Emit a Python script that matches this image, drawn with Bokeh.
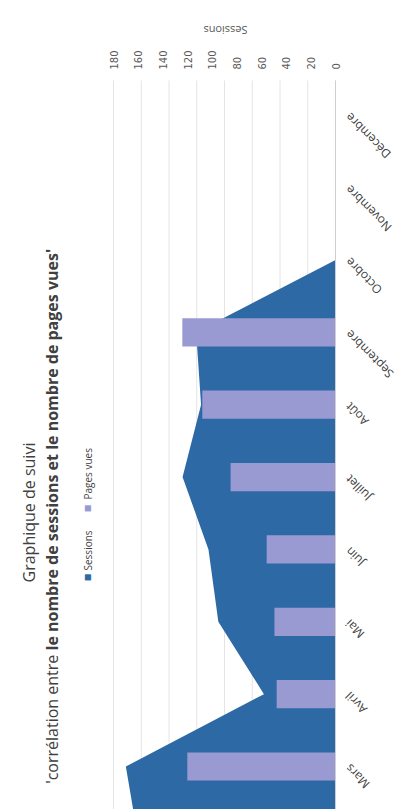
from math import pi
from bokeh.plotting import figure
from bokeh.models import Range1d, ColumnDataSource, Label
from bokeh.core.properties import value
from bokeh.embed import file_html
from bokeh.resources import INLINE

# ---- data ----
months = ["Février", "Mars", "Avril", "Mai", "Juin", "Juillet", "Août",
          "Septembre", "Octobre", "Novembre", "Décembre"]
sessions = [160, 170, 58, 95, 103, 124, 109, 113, 0, 0, 0]
pages_vues = [None, 267, 106, 110, 124, 189, 240, 276, 0, 0, 0]
session_ticks = [0, 20, 40, 60, 80, 100, 120, 140, 160, 180]
pages_ticks = [0, 50, 100, 150, 200, 250, 300, 350, 400]
title_1 = "Graphique de suivi"
title_2a = "'corrélation entre "
title_2b = "le nombre de sessions et le nombre de pages vues'"
legend_names = ["Sessions", "Pages vues"]
axis_title = "Sessions"

SESS_COLOR = "#2d6aa5"
PAGE_COLOR = "#9a9ad2"
TEXT = "#404040"
W, H = 398, 809

# ---- layout: plot area in page pixels ----
AX_X = 335          # value 0 (category axis line)
AX_LEFT = 113       # maximum of both value axes
CAT_PX = 72.36      # pixels per category
MARS_Y = 766        # centre of first visible category
PLOT_TOP = 80

k_pages = (AX_X - AX_LEFT) / max(pages_ticks)
k_sess = (AX_X - AX_LEFT) / max(session_ticks)
first_visible = 1


def idx_of(py):
    return first_visible + (MARS_Y - py) / CAT_PX


def xp(px):  # page x -> pages units
    return (AX_X - px) / k_pages


def xs(px):  # page x -> sessions units
    return (AX_X - px) / k_sess


idx = list(range(len(months)))
src_all = ColumnDataSource(dict(idx=idx, sessions=sessions))
bar_rows = [i for i, v in enumerate(pages_vues) if v is not None]
src_bars = ColumnDataSource(dict(idx=bar_rows, pages=[pages_vues[i] for i in bar_rows]))
lab_rows = [i for i in idx if i >= first_visible]
src_labels = ColumnDataSource(dict(idx=lab_rows, month=[months[i] for i in lab_rows]))

p = figure(width=W, height=H, min_border=0,
           x_range=Range1d(xp(0), xp(W)), y_range=Range1d(idx_of(H), idx_of(0)),
           x_axis_location=None, y_axis_location=None,
           output_backend="svg", toolbar_location=None)
p.outline_line_color = None
p.xgrid.visible = False
p.ygrid.visible = False
p.extra_x_ranges = {"sessions": Range1d(xs(0), xs(W))}

# gridlines (primary axis, labels cut off in the picture)
n = len(pages_ticks)
p.segment(x0=pages_ticks, x1=pages_ticks, y0=[idx_of(H)] * n, y1=[idx_of(PLOT_TOP)] * n,
          line_color="#e4e4e4", line_width=1)

p.harea(x1=0, x2="sessions", y="idx", source=src_all, x_range_name="sessions",
        fill_color=SESS_COLOR)
p.hbar(y="idx", left=0, right="pages", height=0.39, source=src_bars,
       fill_color=PAGE_COLOR, line_color=None)

# category axis line
p.segment(x0=[0], x1=[0], y0=[idx_of(H)], y1=[idx_of(PLOT_TOP)],
          line_color="#cfcfcf", line_width=1)

# category labels
p.text(x=xs(347), y="idx", text="month", source=src_labels, x_range_name="sessions",
       angle=3 * pi / 4, text_align="right", text_baseline="middle",
       text_font=value("Open Sans"), text_font_size="12px", text_color=TEXT)

# secondary value axis tick labels (top)
p.text(x=session_ticks, y=[idx_of(69)] * len(session_ticks),
       text=[str(t) for t in session_ticks], x_range_name="sessions",
       angle=pi / 2, text_align="left", text_baseline="middle",
       text_font=value("DejaVu Sans"), text_font_size="10px", text_color="#595959")

p.add_layout(Label(x=xs(225), y=idx_of(30), x_range_name="sessions", text=axis_title, angle=pi,
                   text_align="center", text_baseline="middle",
                   text_font="Open Sans", text_font_size="11px", text_color="#595959"))

p.add_layout(Label(x=xp(28), y=idx_of(512), text=title_1, angle=pi / 2, text_align="center",
                   text_baseline="middle", text_font="Open Sans", text_font_size="16px",
                   text_color=TEXT))
p.add_layout(Label(x=xp(51), y=idx_of(650), text=title_2a, angle=pi / 2, text_align="right",
                   text_baseline="middle", text_font="Open Sans", text_font_size="16px",
                   text_color=TEXT))
p.add_layout(Label(x=xp(51), y=idx_of(650), text=title_2b, angle=pi / 2, text_align="left",
                   text_baseline="middle", text_font="Open Sans", text_font_size="16px",
                   text_font_style="bold", text_color=TEXT))

p.add_layout(Label(x=xp(87), y=idx_of(577), text="■", angle=pi / 2, text_align="center",
                   text_baseline="middle", text_font="DejaVu Sans", text_font_size="8px",
                   text_color=SESS_COLOR))
p.add_layout(Label(x=xp(87), y=idx_of(570), text=legend_names[0], angle=pi / 2,
                   text_align="left", text_baseline="middle", text_font="Open Sans",
                   text_font_size="10px", text_color=TEXT))
p.add_layout(Label(x=xp(87), y=idx_of(508), text="■", angle=pi / 2, text_align="center",
                   text_baseline="middle", text_font="DejaVu Sans", text_font_size="8px",
                   text_color=PAGE_COLOR))
p.add_layout(Label(x=xp(87), y=idx_of(499), text=legend_names[1], angle=pi / 2,
                   text_align="left", text_baseline="middle", text_font="Open Sans",
                   text_font_size="10px", text_color=TEXT))

open("out.html", "w").write(file_html(p, INLINE))
